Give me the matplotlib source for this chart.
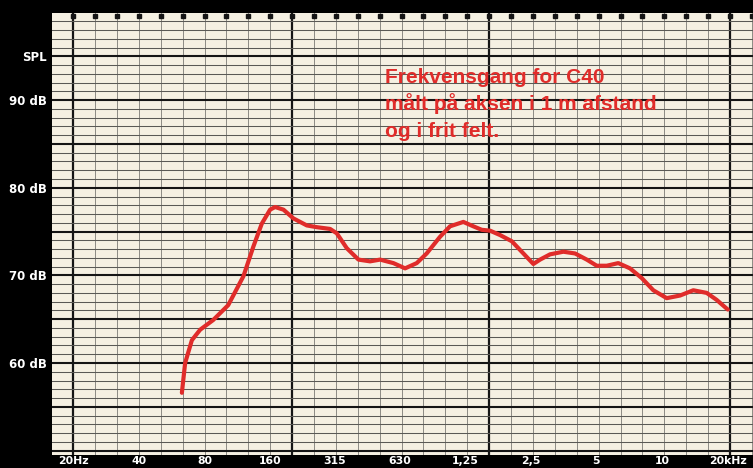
import numpy as np
import matplotlib
matplotlib.use("Agg")
from matplotlib import pyplot as plt

# frequency response (Hz, dB SPL)
freq = [63.0, 65.2, 70.0, 76.4, 87.6, 102.7, 120.6, 134, 146.4, 159.8, 168.5,
        184, 204.4, 235.4, 261.6, 301, 323, 359, 406, 459, 510, 587, 664, 751,
        834, 960, 1067, 1228, 1364, 1491, 1628, 1809, 2046, 2314, 2571, 2760,
        3066, 3528, 3992, 4516, 5018, 5576, 6300, 7128, 8062, 9116, 10500,
        12086, 13900, 16010, 17790, 20000]
spl = [56.6, 60.0, 62.6, 63.8, 64.9, 66.6, 69.9, 73.3, 75.9, 77.5, 77.8,
       77.5, 76.5, 75.7, 75.5, 75.3, 74.8, 73.1, 71.8, 71.6, 71.8, 71.4, 70.8,
       71.4, 72.5, 74.4, 75.6, 76.1, 75.6, 75.2, 75.1, 74.6, 73.9, 72.5, 71.3,
       71.8, 72.4, 72.7, 72.5, 71.8, 71.1, 71.1, 71.4, 70.8, 69.7, 68.3, 67.4,
       67.7, 68.3, 68.0, 67.2, 66.1]

xtick_freqs = [20, 40, 80, 160, 315, 630, 1250, 2500, 5000, 10000, 20000]
xtick_labels = ["20Hz", "40", "80", "160", "315", "630", "1,25", "2,5", "5", "10", "20kHz"]
ytick_vals = [60, 70, 80, 90, 95]
ytick_labels = ["60 dB", "70 dB", "80 dB", "90 dB", "SPL"]
note = ["Frekvensgang for C40", "målt på aksen i 1 m afstand", "og i frit felt."]

PAPER = "#f5f0e2"
RED = "#e02c2a"
W, H = 753, 468

fig = plt.figure(figsize=(W / 100, H / 100), dpi=100, facecolor="black")
ax = fig.add_axes([52 / W, (H - 455) / H, (W - 52) / W, (455 - 12.5) / H])
ax.set_facecolor(PAPER)
ax.set_xscale("log")
ax.set_xlim(16.0, 26100)
ax.set_ylim(49.5, 100)

# chart paper grid: third octaves across, 1 dB up
thirds = 20 * 2 ** (np.arange(-1, 32) / 3.0)
thick_k = [0, 10, 19, 30]
for k, f in zip(range(-1, 32), thirds):
  if k in thick_k:
    ax.axvline(f, color="#151515", lw=1.6, zorder=1)
  else:
    ax.axvline(f, color="#8c8a84", lw=0.7, zorder=1)
for db in range(50, 100):
  if db % 5 == 0:
    ax.axhline(db, color="#151515", lw=1.5, zorder=1)
  else:
    ax.axhline(db, color="#5a5955", lw=0.75, zorder=1)
# little black marks along the top edge
ax.plot(thirds[1:], [99.55] * len(thirds[1:]), ls="none", marker="s", ms=2.8,
        color="#151515", zorder=2, clip_on=False)

ax.plot(freq, spl, color=RED, lw=3.0, solid_capstyle="round",
        solid_joinstyle="round", zorder=3)

ax.set_xticks(xtick_freqs)
ax.set_xticklabels(xtick_labels)
ax.xaxis.set_minor_locator(matplotlib.ticker.NullLocator())
ax.set_yticks(ytick_vals)
ax.set_yticklabels(ytick_labels)
ax.tick_params(axis="x", length=0, pad=0.8, labelcolor="white", labelsize=7.8)
ax.tick_params(axis="y", length=0, pad=3.5, labelcolor="white", labelsize=8.5)
for lab in ax.get_xticklabels() + ax.get_yticklabels():
  lab.set_fontweight("bold")
  lab.set_family("DejaVu Sans")
for s in ax.spines.values():
  s.set_visible(False)

for i, line in enumerate(note):
  fig.text(385 / W, 1 - (83 + 27 * i) / H, line, color=RED, fontsize=15,
           fontweight="bold", family="Liberation Sans", va="baseline", ha="left")

fig.savefig("out.png", dpi=100, facecolor="black")
